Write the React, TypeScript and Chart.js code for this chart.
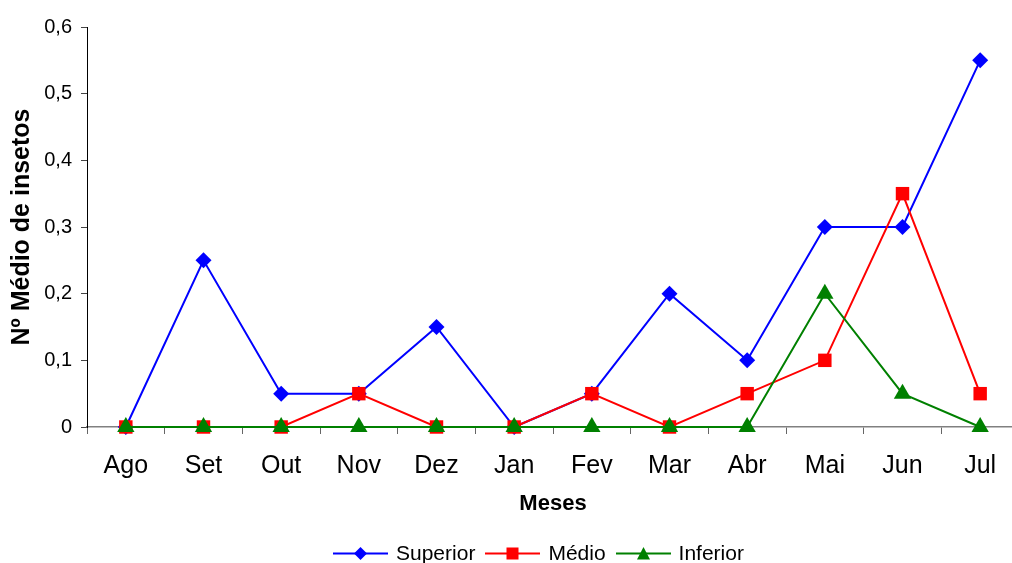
import React, { useEffect, useRef } from "react";
import { Chart, registerables } from "chart.js";

Chart.register(...registerables);

const months = ["Ago", "Set", "Out", "Nov", "Dez", "Jan", "Fev", "Mar", "Abr", "Mai", "Jun", "Jul"];
const superior = [0, 0.25, 0.05, 0.05, 0.15, 0, 0.05, 0.2, 0.1, 0.3, 0.3, 0.55];
const medio = [0, 0, 0, 0.05, 0, 0, 0.05, 0, 0.05, 0.1, 0.35, 0.05];
const inferior = [0, 0, 0, 0, 0, 0, 0, 0, 0, 0.2, 0.05, 0];
const yTicks = [0, 0.1, 0.2, 0.3, 0.4, 0.5, 0.6];

const FONT = "'Liberation Sans', Arial, sans-serif";

function fmt(v: number): string {
  if (v === 0) return "0";
  return v.toFixed(1).replace(".", ",");
}

function LegendItem({ color, shape, label }: { color: string; shape: string; label: string }) {
  let marker: React.ReactNode = null;
  if (shape === "diamond") marker = <polygon points="27.5,2 34,8.5 27.5,15 21,8.5" fill={color} />;
  if (shape === "square") marker = <rect x={21.5} y={2.5} width={12} height={12} fill={color} />;
  if (shape === "triangle") marker = <polygon points="27.5,2 34,14.5 21,14.5" fill={color} />;
  return (
    <div style={{ display: "flex", alignItems: "center", marginRight: 10 }}>
      <svg width={55} height={17} style={{ display: "block" }}>
        <line x1={0} y1={8.5} x2={55} y2={8.5} stroke={color} strokeWidth={2} />
        {marker}
      </svg>
      <span style={{ marginLeft: 8, fontFamily: FONT, fontSize: 21, color: "#000", lineHeight: "24px" }}>{label}</span>
    </div>
  );
}

export default function App() {
  const ref = useRef<HTMLCanvasElement | null>(null);

  useEffect(() => {
    if (!ref.current) return;
    const chart = new Chart(ref.current, {
      type: "line",
      data: {
        labels: months,
        datasets: [
          {
            label: "Superior",
            data: superior,
            borderColor: "#0000FF",
            backgroundColor: "#0000FF",
            borderWidth: 2,
            pointStyle: "rectRot",
            pointRadius: 8,
            pointBorderWidth: 0,
            tension: 0,
            clip: false,
            order: 3,
          },
          {
            label: "Médio",
            data: medio,
            borderColor: "#FF0000",
            backgroundColor: "#FF0000",
            borderWidth: 2,
            pointStyle: "rect",
            pointRadius: 9.5,
            pointBorderWidth: 0,
            tension: 0,
            clip: false,
            order: 2,
          },
          {
            label: "Inferior",
            data: inferior,
            borderColor: "#008000",
            backgroundColor: "#008000",
            borderWidth: 2,
            pointStyle: "triangle",
            pointRadius: 10,
            pointBorderWidth: 0,
            tension: 0,
            clip: false,
            order: 1,
          },
        ],
      },
      options: {
        responsive: false,
        animation: false,
        layout: { padding: { top: 27, right: 11, left: 0, bottom: 0 } },
        plugins: {
          legend: { display: false },
          tooltip: { enabled: false },
        },
        scales: {
          x: {
            offset: true,
            grid: {
              display: true,
              offset: true,
              drawOnChartArea: false,
              drawTicks: true,
              tickLength: 7,
              color: "#666666",
              lineWidth: 1,
            },
            border: { display: true, color: "#808080", width: 1.5 },
            ticks: {
              color: "#000",
              font: { family: FONT, size: 25 },
              padding: 17,
              maxRotation: 0,
              autoSkip: false,
            },
            title: {
              display: true,
              text: "Meses",
              color: "#000",
              font: { family: FONT, size: 22, weight: "bold" },
              padding: { top: 4, bottom: 46 },
            },
            afterFit: (s: any) => {
              s.height = 136;
            },
          },
          y: {
            min: 0,
            max: 0.6,
            afterBuildTicks: (s: any) => {
              s.ticks = yTicks.map((v) => ({ value: v }));
            },
            grid: {
              display: true,
              drawOnChartArea: false,
              drawTicks: true,
              tickLength: 6,
              color: "#444444",
              lineWidth: 1,
            },
            border: { display: true, color: "#000", width: 1 },
            ticks: {
              color: "#000",
              font: { family: FONT, size: 20 },
              padding: 9,
              callback: (v: any) => fmt(Number(v)),
            },
            title: {
              display: true,
              text: "Nº Médio de insetos",
              color: "#000",
              font: { family: FONT, size: 25, weight: "bold" },
              padding: { top: 7.5, bottom: 0 },
            },
            afterFit: (s: any) => {
              s.width = 87;
            },
          },
        },
      },
    });
    return () => chart.destroy();
  }, []);

  return (
    <div
      style={{
        position: "fixed",
        left: 0,
        top: 0,
        width: 1012,
        height: 563,
        overflow: "hidden",
        background: "#fff",
      }}
    >
      <canvas ref={ref} width={1030} height={563} style={{ display: "block" }} />
      <div
        style={{
          position: "absolute",
          left: 333,
          top: 541,
          display: "flex",
          alignItems: "center",
        }}
      >
        <LegendItem color="#0000FF" shape="diamond" label="Superior" />
        <LegendItem color="#FF0000" shape="square" label="Médio" />
        <LegendItem color="#008000" shape="triangle" label="Inferior" />
      </div>
    </div>
  );
}
